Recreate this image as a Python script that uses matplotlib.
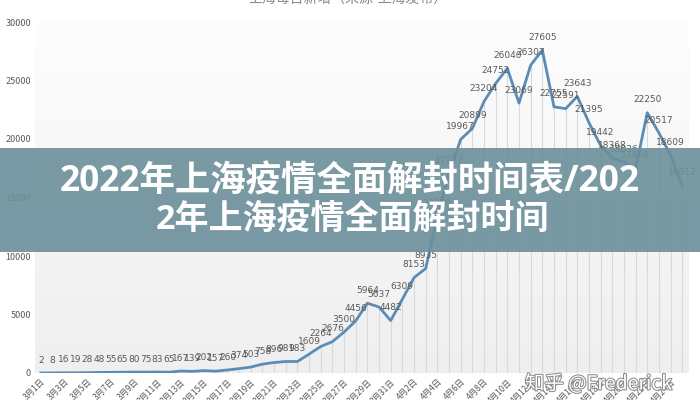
import numpy as np
import matplotlib
matplotlib.use('Agg')
import matplotlib.pyplot as plt
import matplotlib.patheffects as pe
from matplotlib.patches import Rectangle

plt.rcParams['font.family'] = ['Noto Sans CJK SC', 'DejaVu Sans']

# daily new cases, Mar 1 .. Apr 25
dates = [f'3月{d}日' for d in range(1, 32)] + [f'4月{d}日' for d in range(1, 26)]
cases = [2, 8, 16, 19, 28, 48, 55, 65, 80, 75, 83, 65, 167, 139, 202, 157,
         260, 374, 503, 758, 896, 981, 983, 1609, 2264, 2676, 3500, 4456,
         5964, 5637, 4482, 6309, 8153, 8935, 13350, 17077, 19967, 20899,
         23204, 24752, 26040, 23069, 26307, 27605, 22755, 22591, 23643,
         21395, 19442, 18368, 18036, 17466, 22250, 20517, 18609, 16012]
yticks = [0, 5000, 10000, 15000, 20000, 25000, 30000]

title = '上海每日新增（来源-上海发布）'
banner_lines = ['2022年上海疫情全面解封时间表/202', '2年上海疫情全面解封时间']
watermark = '知乎 @Frederick'

fig = plt.figure(figsize=(7, 4), dpi=100)
ax = fig.add_axes([0.05, 0.0675, 0.933, 0.8775])

x = np.arange(len(cases))

# soft gradient background of the plot area
grad = np.linspace(1.0, 0.0, 256).reshape(-1, 1)
ax.imshow(grad, cmap=matplotlib.colors.LinearSegmentedColormap.from_list(
    'bg', ['#efefef', '#fdfdfd']), extent=(-0.5, len(cases) - 0.5, 0, 30000),
    aspect='auto', zorder=0)

# drop lines
ax.vlines(x, 0, cases, color='#d9d9d9', linewidth=0.8, zorder=1)
ax.plot(x, cases, color='#5b8cb6', linewidth=2, zorder=3)

for xi, v in zip(x, cases):
    ax.annotate(str(v), (xi, v), xytext=(0, 6), textcoords='offset points',
                ha='center', va='bottom', fontsize=6.5, color='#595959',
                family=['DejaVu Sans'], zorder=4)

ax.set_xlim(-0.5, len(cases) - 0.5)
ax.set_ylim(0, 30000)
ax.set_yticks(yticks)
ax.set_yticklabels([str(t) for t in yticks], fontsize=6.5, color='#595959')
ax.set_xticks(x[::2])
ax.set_xticklabels(dates[::2], rotation=45, ha='right', rotation_mode='anchor',
                   fontsize=6, color='#595959')
ax.tick_params(length=0, pad=3)
for s in ax.spines.values():
    s.set_visible(False)
ax.axhline(0, color='#d0d0d0', linewidth=0.8, zorder=2)

fig.text(0.497, 1.003, title, ha='center', va='center', fontsize=10,
         color='#8a8a8a')

# translucent banner
fig.patches.append(Rectangle((0, 0.37), 1, 0.26, transform=fig.transFigure,
                             facecolor='#6b8f9a', alpha=0.9, zorder=10))
fig.text(0.5, 0.543, banner_lines[0], ha='center', va='center', fontsize=25.5,
         fontweight='bold', color='white', zorder=11,
         family=['Open Sans', 'Noto Sans CJK SC'])
fig.text(0.503, 0.45, banner_lines[1], ha='center', va='center', fontsize=24.5,
         fontweight='bold', color='white', zorder=11,
         family=['Open Sans', 'Noto Sans CJK SC'])

fig.text(0.855, 0.04, watermark, ha='center', va='center', fontsize=14,
         color='white', zorder=12,
         path_effects=[pe.withStroke(linewidth=1.5, foreground='#8c8c8c')])

fig.savefig('out.png', dpi=100)
